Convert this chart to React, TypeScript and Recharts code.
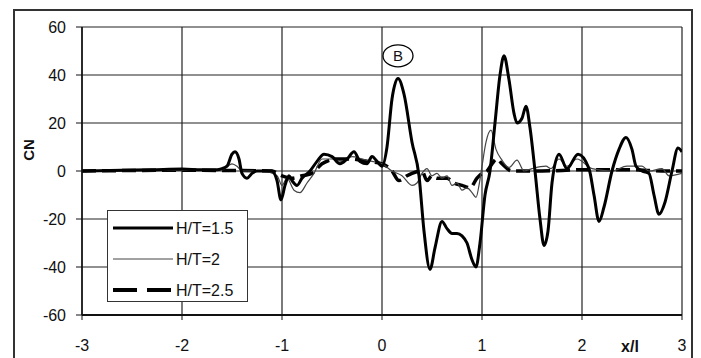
import React from 'react';
import {
  LineChart,
  Line,
  XAxis,
  YAxis,
  CartesianGrid,
  ReferenceDot,
  Customized
} from 'recharts';

// [x/l, CN] pairs
const HT15: [number, number][] = [
  [-3, 0], [-2.6, 0.3], [-2.3, 0.5], [-2.0, 0.8], [-1.8, 0.5], [-1.65, 0.5], [-1.6, 1],
  [-1.55, 2], [-1.5, 7], [-1.47, 8], [-1.43, 5], [-1.4, -1], [-1.35, -3], [-1.3, -1],
  [-1.25, 0], [-1.1, 0], [-1.05, -4], [-1.01, -12], [-0.97, -6], [-0.93, -2], [-0.9, -4],
  [-0.85, -6], [-0.8, -3], [-0.72, 0], [-0.65, 4], [-0.58, 7], [-0.5, 6], [-0.42, 3],
  [-0.35, 5], [-0.28, 8], [-0.22, 4], [-0.15, 3], [-0.1, 6], [-0.05, 4], [0, 2],
  [0.05, 10], [0.1, 30], [0.16, 38.5], [0.22, 32], [0.3, 12], [0.37, -2], [0.42, -25],
  [0.48, -41], [0.53, -32], [0.6, -21], [0.65, -24], [0.7, -26], [0.75, -26], [0.8, -27],
  [0.85, -30], [0.9, -37], [0.94, -40], [0.98, -30], [1.03, -10], [1.08, 0], [1.13, 20],
  [1.18, 40], [1.22, 48], [1.27, 38], [1.32, 24], [1.35, 20], [1.4, 22], [1.44, 27],
  [1.48, 18], [1.53, 0], [1.58, -20], [1.62, -31], [1.66, -25], [1.7, -5], [1.77, 7],
  [1.85, 1], [1.96, 7], [2.07, 1], [2.12, -10], [2.17, -21], [2.22, -15], [2.3, 0],
  [2.37, 9], [2.44, 14], [2.5, 9], [2.54, 2], [2.6, 0], [2.67, -1], [2.72, -10],
  [2.77, -18], [2.83, -13], [2.9, 0], [2.96, 9.6], [3, 8]
];

const HT20: [number, number][] = [
  [-3, 0], [-2.0, 0.3], [-1.6, 0.5], [-1.5, 3], [-1.45, 2], [-1.4, 0], [-1.2, 0],
  [-1.05, -2], [-1.0, -6], [-0.95, -3], [-0.88, -8], [-0.82, -9], [-0.75, -5], [-0.68, -1],
  [-0.6, 5], [-0.5, 5], [-0.4, 4], [-0.3, 6], [-0.2, 5], [-0.1, 4], [0, 3], [0.1, 0],
  [0.2, -2], [0.3, -6], [0.35, -5], [0.4, -1], [0.45, 1], [0.5, -2], [0.55, -1],
  [0.6, -3], [0.65, -2], [0.7, -6], [0.75, -5], [0.8, -8], [0.85, -7], [0.9, -9],
  [0.94, -11], [0.97, -6], [1.0, 2], [1.04, 12], [1.09, 17], [1.14, 9], [1.2, 4.5],
  [1.27, 1.5], [1.35, 4.5], [1.42, 0], [1.5, 1], [1.64, 2], [1.69, 1], [1.77, 5],
  [1.85, 2], [1.95, 5], [2.1, 1], [2.3, 0], [2.45, 2], [2.6, 2], [2.67, 0], [2.8, 1],
  [2.87, -2], [3, -1]
];

const HT25: [number, number][] = [
  [-3, 0], [-2.0, 0.3], [-1.1, 0], [-1.0, -2], [-0.9, -3], [-0.8, -2], [-0.7, -1],
  [-0.6, 3], [-0.45, 5], [-0.3, 5], [-0.15, 4], [0, 3], [0.1, 0], [0.17, -4],
  [0.25, -2], [0.3, -1], [0.4, 0], [0.45, -4], [0.5, -2], [0.55, -3], [0.65, -3],
  [0.72, -5], [0.8, -6], [0.88, -7], [0.95, -3], [1.0, -1], [1.05, 0], [1.1, 3],
  [1.15, 5], [1.2, 3], [1.3, 0], [1.6, 0], [2.0, 0.5], [2.5, 0.5], [2.8, 0], [3, 0]
];

const X_TICKS = [-3, -2, -1, 0, 1, 2, 3];
const Y_TICKS = [-60, -40, -20, 0, 20, 40, 60];

const toRows = (pts: [number, number][]) => pts.map(([x, y]) => ({ x, y }));

const FONT = '"Liberation Sans", Arial, sans-serif';

const LegendBox = () => (
  <div
    style={{
      position: 'absolute',
      left: 107,
      top: 210,
      width: 139,
      height: 90,
      border: '1px solid #333',
      background: '#fff'
    }}
  >
    <svg width={139} height={90} style={{ display: 'block' }}>
      <line x1={5} x2={65} y1={17} y2={17} stroke="#000" strokeWidth={3} />
      <text x={68} y={23} fontSize={16} fontFamily={FONT} fill="#111">H/T=1.5</text>
      <line x1={5} x2={65} y1={48} y2={48} stroke="#444" strokeWidth={1} />
      <text x={68} y={54} fontSize={16} fontFamily={FONT} fill="#111">H/T=2</text>
      <line x1={5} x2={65} y1={79} y2={79} stroke="#000" strokeWidth={4} strokeDasharray="24 10" />
      <text x={68} y={85} fontSize={16} fontFamily={FONT} fill="#111">H/T=2.5</text>
    </svg>
  </div>
);

const BMark = (props: any) => {
  const { cx, cy } = props;
  return (
    <g>
      <ellipse cx={cx} cy={cy} rx={15} ry={11} fill="#fff" stroke="#000" strokeWidth={1.3} />
      <text x={cx} y={cy + 5.5} textAnchor="middle" fontSize={15} fontFamily={FONT} fill="#111">B</text>
    </g>
  );
};

const AxisTitles = () => (
  <g>
    <text
      x={34}
      y={150}
      transform="rotate(-90 34 150)"
      textAnchor="middle"
      fontSize={15}
      fontWeight="bold"
      fontFamily={FONT}
      fill="#111"
    >
      CN
    </text>
    <text x={630} y={352} textAnchor="middle" fontSize={16} fontWeight="bold" fontFamily={FONT} fill="#111">
      x/l
    </text>
  </g>
);

export default function App() {
  return (
    <div
      style={{
        position: 'absolute',
        left: 0,
        top: 0,
        width: 701,
        height: 358,
        overflow: 'hidden',
        background: '#fff'
      }}
    >
      <div
        style={{
          position: 'absolute',
          left: 13,
          top: 9,
          width: 676,
          height: 400,
          border: '2px solid #333'
        }}
      />
      <div style={{ position: 'absolute', left: 0, top: 0 }}>
        <LineChart width={701} height={358} margin={{ top: 27, right: 19, left: 0, bottom: 0 }}>
          <CartesianGrid stroke="#222" strokeWidth={1.2} />
          <XAxis
            type="number"
            dataKey="x"
            domain={[-3, 3]}
            ticks={X_TICKS}
            allowDataOverflow
            height={43}
            axisLine={{ stroke: '#111', strokeWidth: 2 }}
            tickLine={{ stroke: '#111' }}
            tickSize={5}
            tickMargin={20}
            tick={{ fill: '#111', fontSize: 16, fontFamily: FONT }}
          />
          <YAxis
            type="number"
            dataKey="y"
            domain={[-60, 60]}
            ticks={Y_TICKS}
            allowDataOverflow
            width={82}
            axisLine={{ stroke: '#111', strokeWidth: 1.5 }}
            tickLine={{ stroke: '#111' }}
            tickSize={6}
            tickMargin={10}
            tick={{ fill: '#111', fontSize: 16, fontFamily: FONT }}
          />
          <Line
            data={toRows(HT25)}
            dataKey="y"
            name="H/T=2.5"
            type="monotone"
            stroke="#000"
            strokeWidth={3.5}
            strokeDasharray="14 6"
            dot={false}
            isAnimationActive={false}
          />
          <Line
            data={toRows(HT20)}
            dataKey="y"
            name="H/T=2"
            type="monotone"
            stroke="#444"
            strokeWidth={1.2}
            dot={false}
            isAnimationActive={false}
          />
          <Line
            data={toRows(HT15)}
            dataKey="y"
            name="H/T=1.5"
            type="monotone"
            stroke="#000"
            strokeWidth={3}
            dot={false}
            isAnimationActive={false}
          />
          <ReferenceDot x={0.16} y={48} r={0} shape={BMark} />
          <Customized component={AxisTitles} />
        </LineChart>
      </div>
      <LegendBox />
    </div>
  );
}
